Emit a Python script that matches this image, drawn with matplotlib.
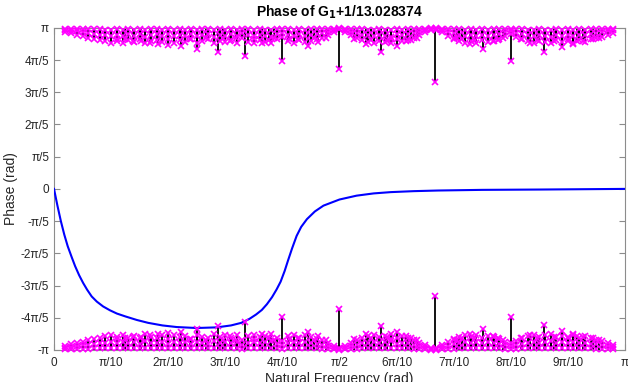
import matplotlib
matplotlib.use("Agg")
import matplotlib.pyplot as plt
import numpy as np

plt.rcParams['font.family'] = ['Liberation Sans', 'DejaVu Sans']

# frequencies in units of pi, phases in units of pi/5

# blue phase curve
curve_x = [0.000, 0.006, 0.012, 0.018, 0.024, 0.031, 0.037, 0.044, 0.051, 0.058,
           0.066, 0.075, 0.086, 0.098, 0.110, 0.125, 0.145, 0.165, 0.190, 0.215,
           0.250, 0.285, 0.310, 0.328, 0.342, 0.354, 0.364, 0.373, 0.382, 0.390,
           0.397, 0.404, 0.410, 0.417, 0.425, 0.433, 0.443, 0.457, 0.472, 0.500,
           0.530, 0.560, 0.590, 0.630, 0.673, 0.750, 0.850, 1.000]
curve_v = [0.00, -0.52, -1.00, -1.42, -1.78, -2.12, -2.40, -2.68, -2.92, -3.13,
           -3.34, -3.50, -3.65, -3.77, -3.87, -3.96, -4.07, -4.16, -4.24, -4.29,
           -4.32, -4.30, -4.24, -4.16, -4.04, -3.90, -3.76, -3.58, -3.36, -3.12,
           -2.88, -2.55, -2.22, -1.85, -1.46, -1.18, -0.94, -0.70, -0.52, -0.33,
           -0.21, -0.14, -0.10, -0.07, -0.05, -0.03, -0.02, 0.00]

# large stems (top values, bottom ones are mirrored)
peak_x = [0.153, 0.168, 0.183, 0.200, 0.222, 0.251, 0.267, 0.287, 0.308, 0.334,
          0.364, 0.400, 0.427, 0.445, 0.463, 0.500, 0.546, 0.572, 0.600, 0.616,
          0.667, 0.714, 0.729, 0.751, 0.769, 0.800, 0.834, 0.858, 0.890, 0.909,
          0.927]
peak_v = [4.59, 4.54, 4.50, 4.47, 4.43, 4.35, 4.68, 4.26, 4.58, 4.14,
          4.52, 3.98, 4.64, 4.43, 4.57, 3.73, 4.50, 4.26, 4.45, 4.58,
          3.32, 4.64, 4.50, 4.35, 4.58, 3.97, 4.53, 4.24, 4.40, 4.50,
          4.60]

# smaller stems sitting in the fringe
mid_x = [0.110, 0.124, 0.138, 0.238, 0.296, 0.318, 0.350, 0.376, 0.386, 0.412,
         0.455, 0.477, 0.525, 0.556, 0.583, 0.591, 0.625, 0.636, 0.700, 0.706,
         0.737, 0.778, 0.786, 0.818, 0.846, 0.875, 0.900, 0.917, 0.944, 0.955]
mid_v = [4.66, 4.64, 4.60, 4.65, 4.70, 4.68, 4.66, 4.62, 4.68, 4.66,
         4.70, 4.68, 4.66, 4.62, 4.60, 4.66, 4.62, 4.68, 4.66, 4.70,
         4.62, 4.62, 4.68, 4.64, 4.62, 4.60, 4.64, 4.58, 4.64, 4.68]

# dense fringe near +/-pi: depth below pi, three rows
fringe_x = [0.02, 0.03, 0.04, 0.05, 0.06, 0.07, 0.08, 0.09, 0.10, 0.11,
            0.12, 0.13, 0.14, 0.15, 0.16, 0.17, 0.18, 0.19, 0.20, 0.21,
            0.22, 0.23, 0.24, 0.25, 0.26, 0.27, 0.28, 0.29, 0.30, 0.31,
            0.32, 0.33, 0.34, 0.35, 0.36, 0.37, 0.38, 0.39, 0.40, 0.41,
            0.42, 0.43, 0.44, 0.45, 0.46, 0.47, 0.48, 0.49, 0.50, 0.51,
            0.52, 0.53, 0.54, 0.55, 0.56, 0.57, 0.58, 0.59, 0.60, 0.61,
            0.62, 0.63, 0.64, 0.65, 0.66, 0.67, 0.68, 0.69, 0.70, 0.71,
            0.72, 0.73, 0.74, 0.75, 0.76, 0.77, 0.78, 0.79, 0.80, 0.81,
            0.82, 0.83, 0.84, 0.85, 0.86, 0.87, 0.88, 0.89, 0.90, 0.91,
            0.92, 0.93, 0.94, 0.95, 0.96, 0.97, 0.98]
fringe_outer = [0.12, 0.17, 0.21, 0.26, 0.30, 0.34, 0.38, 0.42, 0.46, 0.40,
                0.47, 0.38, 0.44, 0.36, 0.48, 0.40, 0.37, 0.45, 0.33, 0.47,
                0.39, 0.44, 0.35, 0.46, 0.41, 0.36, 0.48, 0.40, 0.45, 0.37,
                0.46, 0.30, 0.43, 0.47, 0.39, 0.44, 0.48, 0.36, 0.28, 0.42,
                0.47, 0.38, 0.45, 0.40, 0.35, 0.30, 0.22, 0.12, 0.05, 0.12,
                0.22, 0.30, 0.38, 0.43, 0.47, 0.40, 0.44, 0.48, 0.36, 0.42,
                0.37, 0.30, 0.22, 0.14, 0.06, 0.06, 0.14, 0.24, 0.32, 0.40,
                0.46, 0.41, 0.47, 0.38, 0.44, 0.40, 0.34, 0.26, 0.20, 0.28,
                0.36, 0.42, 0.47, 0.40, 0.45, 0.48, 0.39, 0.44, 0.41, 0.46,
                0.38, 0.43, 0.36, 0.32, 0.27, 0.21, 0.15]
fringe_inner = [0.06, 0.09, 0.11, 0.14, 0.16, 0.19, 0.21, 0.23, 0.25, 0.22,
                0.26, 0.20, 0.24, 0.19, 0.27, 0.21, 0.20, 0.25, 0.18, 0.26,
                0.21, 0.24, 0.19, 0.25, 0.22, 0.19, 0.27, 0.21, 0.25, 0.20,
                0.25, 0.16, 0.23, 0.26, 0.21, 0.24, 0.27, 0.19, 0.15, 0.23,
                0.26, 0.20, 0.25, 0.22, 0.19, 0.16, 0.12, 0.07, 0.03, 0.07,
                0.12, 0.16, 0.21, 0.23, 0.26, 0.22, 0.24, 0.27, 0.19, 0.23,
                0.20, 0.16, 0.12, 0.08, 0.03, 0.03, 0.08, 0.13, 0.17, 0.22,
                0.25, 0.22, 0.26, 0.21, 0.24, 0.22, 0.18, 0.14, 0.11, 0.15,
                0.19, 0.23, 0.26, 0.22, 0.25, 0.27, 0.21, 0.24, 0.22, 0.25,
                0.21, 0.23, 0.19, 0.17, 0.14, 0.11, 0.08]
fringe_top = [0.02, 0.03, 0.03, 0.04, 0.04, 0.05, 0.05, 0.06, 0.06, 0.05,
              0.06, 0.05, 0.06, 0.05, 0.06, 0.05, 0.05, 0.06, 0.05, 0.06,
              0.05, 0.06, 0.05, 0.06, 0.05, 0.05, 0.06, 0.05, 0.06, 0.05,
              0.06, 0.04, 0.05, 0.06, 0.05, 0.06, 0.06, 0.05, 0.04, 0.05,
              0.06, 0.05, 0.06, 0.05, 0.05, 0.04, 0.03, 0.02, 0.01, 0.02,
              0.03, 0.04, 0.05, 0.06, 0.06, 0.05, 0.06, 0.06, 0.05, 0.06,
              0.05, 0.04, 0.03, 0.02, 0.01, 0.01, 0.02, 0.03, 0.04, 0.05,
              0.06, 0.05, 0.06, 0.05, 0.06, 0.05, 0.05, 0.04, 0.03, 0.04,
              0.05, 0.06, 0.06, 0.05, 0.06, 0.06, 0.05, 0.06, 0.05, 0.06,
              0.05, 0.06, 0.05, 0.04, 0.04, 0.03, 0.02]

xtick_labels = ['0', 'π/10', '2π/10', '3π/10', '4π/10', 'π/2',
                '6π/10', '7π/10', '8π/10', '9π/10', 'π']
ytick_labels = ['-π', '-4π/5', '-3π/5', '-2π/5', '-π/5', '0',
                'π/5', '2π/5', '3π/5', '4π/5', 'π']

fig = plt.figure(figsize=(6.28, 3.82), dpi=100)
ax = fig.add_axes([0.086, 0.084, 0.909, 0.843])

pi = np.pi
u = pi / 5

# collect all stem points (top values), then mirror to the bottom
sx = list(peak_x) + list(mid_x)
sv = list(peak_v) + list(mid_v)
for row in (fringe_outer, fringe_inner, fringe_top):
    sx += list(fringe_x)
    sv += [5 - d for d in row]
sx = np.array(sx) * pi
sv = np.array(sv) * u

for sign in (1, -1):
    ax.vlines(sx, sign * sv, sign * pi, color='k', lw=1.3, zorder=2)

ax.plot(np.array(curve_x) * pi, np.array(curve_v) * u, color=(0, 0, 1), lw=1.5, zorder=3)

for sign in (1, -1):
    ax.plot(sx, sign * sv, 'x', color='magenta', ms=5, mew=1.2, zorder=4, clip_on=False)

ax.set_xlim(0, pi)
ax.set_ylim(-pi, pi)
ax.set_xticks(np.arange(11) * pi / 10)
ax.set_xticklabels(xtick_labels)
ax.set_yticks(np.arange(-5, 6) * pi / 5)
ax.set_yticklabels(ytick_labels)

gray = '#8c8c8c'
for s in ax.spines.values():
    s.set_color(gray)
    s.set_linewidth(0.8)
ax.tick_params(direction='in', length=4, width=0.8, color=gray, labelsize=8.5,
               labelcolor='#262626', top=True, right=True)
ax.tick_params(axis='x', pad=5)

ax.set_title('Phase of G$_{\\mathbf{1}}$+1/13.028374', fontsize=10, fontweight='bold', pad=8)
ax.set_xlabel('Natural Frequency (rad)', fontsize=10, color='#262626', labelpad=2)
ax.set_ylabel('Phase (rad)', fontsize=10, color='#262626', labelpad=2)

fig.savefig('out.png', dpi=100)
